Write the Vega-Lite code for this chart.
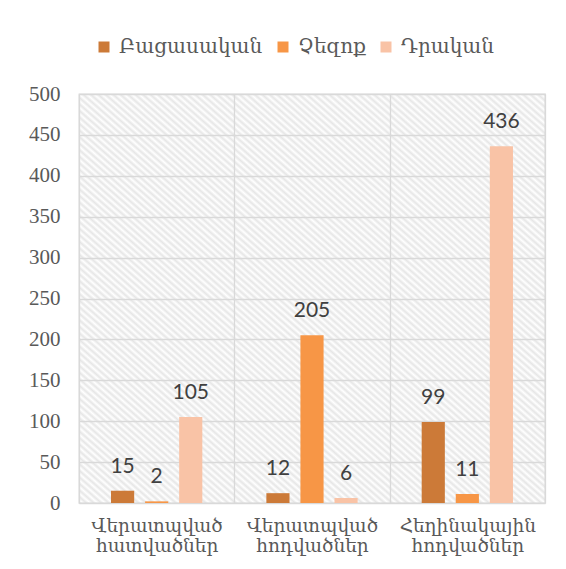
{
 "$schema": "https://vega.github.io/schema/vega-lite/v6.json",
 "width": 466, "height": 409,
 "autosize": "none",
 "padding": {"left": 79, "top": 94, "right": 21, "bottom": 66},
 "background": "white",
 "data": {"values": [
  {"cat": "Վերատպված հատվածներ", "series": "Բացասական", "v": 15},
  {"cat": "Վերատպված հատվածներ", "series": "Չեզոք", "v": 2},
  {"cat": "Վերատպված հատվածներ", "series": "Դրական", "v": 105},
  {"cat": "Վերատպված հոդվածներ", "series": "Բացասական", "v": 12},
  {"cat": "Վերատպված հոդվածներ", "series": "Չեզոք", "v": 205},
  {"cat": "Վերատպված հոդվածներ", "series": "Դրական", "v": 6},
  {"cat": "Հեղինակային հոդվածներ", "series": "Բացասական", "v": 99},
  {"cat": "Հեղինակային հոդվածներ", "series": "Չեզոք", "v": 11},
  {"cat": "Հեղինակային հոդվածներ", "series": "Դրական", "v": 436}
 ]},
 "encoding": {
  "x": {"field": "cat", "type": "nominal", "sort": null,
   "scale": {"paddingInner": 0, "paddingOuter": 0},
   "axis": {"title": null, "labelExpr": "split(datum.label, ' ')", "labelFont": "DejaVu Serif", "labelFontSize": 18.5, "labelColor": "#595959", "labelLineHeight": 20, "labelPadding": 13, "labelAngle": 0, "labelBaseline": "top", "ticks": false, "domain": false, "grid": true, "tickBand": "extent", "gridColor": "#d9d9d9", "gridWidth": 1.3}},
  "y": {"field": "v", "type": "quantitative",
   "scale": {"domain": [0, 500], "nice": false},
   "axis": {"title": null, "values": [0, 50, 100, 150, 200, 250, 300, 350, 400, 450, 500], "labelFont": "Liberation Serif", "labelFontSize": 21, "labelColor": "#595959", "labelPadding": 19, "ticks": false, "domain": false, "gridColor": "#d9d9d9", "gridWidth": 1.3}},
  "xOffset": {"field": "series", "type": "nominal", "sort": ["Բացասական", "Չեզոք", "Դրական"], "scale": {"paddingInner": 0.32, "paddingOuter": 0.94}}
 },
 "layer": [
  {"mark": {"type": "bar"},
   "encoding": {"color": {"field": "series", "type": "nominal", "sort": ["Բացասական", "Չեզոք", "Դրական"],
     "scale": {"domain": ["Բացասական", "Չեզոք", "Դրական"], "range": ["#CC7A38", "#F79646", "#F9C3A6"]},
     "legend": {"orient": "none", "legendX": 15, "legendY": -57, "direction": "horizontal", "title": null, "symbolType": "square", "symbolSize": 121, "symbolStrokeWidth": 0, "labelFont": "DejaVu Serif", "labelFontSize": 20, "labelColor": "#595959", "columnSpacing": 25, "labelOffset": 5}}}},
  {"mark": {"type": "text", "baseline": "alphabetic", "dy": -18, "font": "Lato", "fontSize": 21, "fill": "#404040"},
   "encoding": {"text": {"field": "v", "type": "quantitative"}}}
 ],
 "config": {
  "view": {"stroke": "#d9d9d9", "strokeWidth": 1.3,
   "fill": {"gradient": "linear", "x1": 0, "y1": 1, "x2": 1, "y2": 0, "stops": [
{"offset":0.000,"color":"#e6e6e6"},{"offset":0.004,"color":"#fff"},{"offset":0.008,"color":"#e6e6e6"},{"offset":0.012,"color":"#fff"},{"offset":0.016,"color":"#e6e6e6"},{"offset":0.020,"color":"#fff"},{"offset":0.024,"color":"#e6e6e6"},{"offset":0.028,"color":"#fff"},{"offset":0.032,"color":"#e6e6e6"},{"offset":0.036,"color":"#fff"},{"offset":0.040,"color":"#e6e6e6"},{"offset":0.044,"color":"#fff"},{"offset":0.048,"color":"#e6e6e6"},{"offset":0.052,"color":"#fff"},{"offset":0.056,"color":"#e6e6e6"},{"offset":0.060,"color":"#fff"},{"offset":0.064,"color":"#e6e6e6"},{"offset":0.068,"color":"#fff"},{"offset":0.072,"color":"#e6e6e6"},{"offset":0.076,"color":"#fff"},{"offset":0.080,"color":"#e6e6e6"},{"offset":0.084,"color":"#fff"},{"offset":0.088,"color":"#e6e6e6"},{"offset":0.092,"color":"#fff"},{"offset":0.096,"color":"#e6e6e6"},{"offset":0.100,"color":"#fff"},{"offset":0.104,"color":"#e6e6e6"},{"offset":0.108,"color":"#fff"},{"offset":0.112,"color":"#e6e6e6"},{"offset":0.116,"color":"#fff"},{"offset":0.120,"color":"#e6e6e6"},{"offset":0.124,"color":"#fff"},{"offset":0.128,"color":"#e6e6e6"},{"offset":0.132,"color":"#fff"},{"offset":0.136,"color":"#e6e6e6"},{"offset":0.140,"color":"#fff"},{"offset":0.144,"color":"#e6e6e6"},{"offset":0.148,"color":"#fff"},{"offset":0.152,"color":"#e6e6e6"},{"offset":0.156,"color":"#fff"},{"offset":0.160,"color":"#e6e6e6"},{"offset":0.164,"color":"#fff"},{"offset":0.168,"color":"#e6e6e6"},{"offset":0.172,"color":"#fff"},{"offset":0.176,"color":"#e6e6e6"},{"offset":0.180,"color":"#fff"},{"offset":0.184,"color":"#e6e6e6"},{"offset":0.188,"color":"#fff"},{"offset":0.192,"color":"#e6e6e6"},{"offset":0.196,"color":"#fff"},
{"offset":0.200,"color":"#e6e6e6"},{"offset":0.204,"color":"#fff"},{"offset":0.208,"color":"#e6e6e6"},{"offset":0.212,"color":"#fff"},{"offset":0.216,"color":"#e6e6e6"},{"offset":0.220,"color":"#fff"},{"offset":0.224,"color":"#e6e6e6"},{"offset":0.228,"color":"#fff"},{"offset":0.232,"color":"#e6e6e6"},{"offset":0.236,"color":"#fff"},{"offset":0.240,"color":"#e6e6e6"},{"offset":0.244,"color":"#fff"},{"offset":0.248,"color":"#e6e6e6"},{"offset":0.252,"color":"#fff"},{"offset":0.256,"color":"#e6e6e6"},{"offset":0.260,"color":"#fff"},{"offset":0.264,"color":"#e6e6e6"},{"offset":0.268,"color":"#fff"},{"offset":0.272,"color":"#e6e6e6"},{"offset":0.276,"color":"#fff"},{"offset":0.280,"color":"#e6e6e6"},{"offset":0.284,"color":"#fff"},{"offset":0.288,"color":"#e6e6e6"},{"offset":0.292,"color":"#fff"},{"offset":0.296,"color":"#e6e6e6"},{"offset":0.300,"color":"#fff"},{"offset":0.304,"color":"#e6e6e6"},{"offset":0.308,"color":"#fff"},{"offset":0.312,"color":"#e6e6e6"},{"offset":0.316,"color":"#fff"},{"offset":0.320,"color":"#e6e6e6"},{"offset":0.324,"color":"#fff"},{"offset":0.328,"color":"#e6e6e6"},{"offset":0.332,"color":"#fff"},{"offset":0.336,"color":"#e6e6e6"},{"offset":0.340,"color":"#fff"},{"offset":0.344,"color":"#e6e6e6"},{"offset":0.348,"color":"#fff"},{"offset":0.352,"color":"#e6e6e6"},{"offset":0.356,"color":"#fff"},{"offset":0.360,"color":"#e6e6e6"},{"offset":0.364,"color":"#fff"},{"offset":0.368,"color":"#e6e6e6"},{"offset":0.372,"color":"#fff"},{"offset":0.376,"color":"#e6e6e6"},{"offset":0.380,"color":"#fff"},{"offset":0.384,"color":"#e6e6e6"},{"offset":0.388,"color":"#fff"},{"offset":0.392,"color":"#e6e6e6"},{"offset":0.396,"color":"#fff"},
{"offset":0.400,"color":"#e6e6e6"},{"offset":0.404,"color":"#fff"},{"offset":0.408,"color":"#e6e6e6"},{"offset":0.412,"color":"#fff"},{"offset":0.416,"color":"#e6e6e6"},{"offset":0.420,"color":"#fff"},{"offset":0.424,"color":"#e6e6e6"},{"offset":0.428,"color":"#fff"},{"offset":0.432,"color":"#e6e6e6"},{"offset":0.436,"color":"#fff"},{"offset":0.440,"color":"#e6e6e6"},{"offset":0.444,"color":"#fff"},{"offset":0.448,"color":"#e6e6e6"},{"offset":0.452,"color":"#fff"},{"offset":0.456,"color":"#e6e6e6"},{"offset":0.460,"color":"#fff"},{"offset":0.464,"color":"#e6e6e6"},{"offset":0.468,"color":"#fff"},{"offset":0.472,"color":"#e6e6e6"},{"offset":0.476,"color":"#fff"},{"offset":0.480,"color":"#e6e6e6"},{"offset":0.484,"color":"#fff"},{"offset":0.488,"color":"#e6e6e6"},{"offset":0.492,"color":"#fff"},{"offset":0.496,"color":"#e6e6e6"},{"offset":0.500,"color":"#fff"},{"offset":0.504,"color":"#e6e6e6"},{"offset":0.508,"color":"#fff"},{"offset":0.512,"color":"#e6e6e6"},{"offset":0.516,"color":"#fff"},{"offset":0.520,"color":"#e6e6e6"},{"offset":0.524,"color":"#fff"},{"offset":0.528,"color":"#e6e6e6"},{"offset":0.532,"color":"#fff"},{"offset":0.536,"color":"#e6e6e6"},{"offset":0.540,"color":"#fff"},{"offset":0.544,"color":"#e6e6e6"},{"offset":0.548,"color":"#fff"},{"offset":0.552,"color":"#e6e6e6"},{"offset":0.556,"color":"#fff"},{"offset":0.560,"color":"#e6e6e6"},{"offset":0.564,"color":"#fff"},{"offset":0.568,"color":"#e6e6e6"},{"offset":0.572,"color":"#fff"},{"offset":0.576,"color":"#e6e6e6"},{"offset":0.580,"color":"#fff"},{"offset":0.584,"color":"#e6e6e6"},{"offset":0.588,"color":"#fff"},{"offset":0.592,"color":"#e6e6e6"},{"offset":0.596,"color":"#fff"},
{"offset":0.600,"color":"#e6e6e6"},{"offset":0.604,"color":"#fff"},{"offset":0.608,"color":"#e6e6e6"},{"offset":0.612,"color":"#fff"},{"offset":0.616,"color":"#e6e6e6"},{"offset":0.620,"color":"#fff"},{"offset":0.624,"color":"#e6e6e6"},{"offset":0.628,"color":"#fff"},{"offset":0.632,"color":"#e6e6e6"},{"offset":0.636,"color":"#fff"},{"offset":0.640,"color":"#e6e6e6"},{"offset":0.644,"color":"#fff"},{"offset":0.648,"color":"#e6e6e6"},{"offset":0.652,"color":"#fff"},{"offset":0.656,"color":"#e6e6e6"},{"offset":0.660,"color":"#fff"},{"offset":0.664,"color":"#e6e6e6"},{"offset":0.668,"color":"#fff"},{"offset":0.672,"color":"#e6e6e6"},{"offset":0.676,"color":"#fff"},{"offset":0.680,"color":"#e6e6e6"},{"offset":0.684,"color":"#fff"},{"offset":0.688,"color":"#e6e6e6"},{"offset":0.692,"color":"#fff"},{"offset":0.696,"color":"#e6e6e6"},{"offset":0.700,"color":"#fff"},{"offset":0.704,"color":"#e6e6e6"},{"offset":0.708,"color":"#fff"},{"offset":0.712,"color":"#e6e6e6"},{"offset":0.716,"color":"#fff"},{"offset":0.720,"color":"#e6e6e6"},{"offset":0.724,"color":"#fff"},{"offset":0.728,"color":"#e6e6e6"},{"offset":0.732,"color":"#fff"},{"offset":0.736,"color":"#e6e6e6"},{"offset":0.740,"color":"#fff"},{"offset":0.744,"color":"#e6e6e6"},{"offset":0.748,"color":"#fff"},{"offset":0.752,"color":"#e6e6e6"},{"offset":0.756,"color":"#fff"},{"offset":0.760,"color":"#e6e6e6"},{"offset":0.764,"color":"#fff"},{"offset":0.768,"color":"#e6e6e6"},{"offset":0.772,"color":"#fff"},{"offset":0.776,"color":"#e6e6e6"},{"offset":0.780,"color":"#fff"},{"offset":0.784,"color":"#e6e6e6"},{"offset":0.788,"color":"#fff"},{"offset":0.792,"color":"#e6e6e6"},{"offset":0.796,"color":"#fff"},
{"offset":0.800,"color":"#e6e6e6"},{"offset":0.804,"color":"#fff"},{"offset":0.808,"color":"#e6e6e6"},{"offset":0.812,"color":"#fff"},{"offset":0.816,"color":"#e6e6e6"},{"offset":0.820,"color":"#fff"},{"offset":0.824,"color":"#e6e6e6"},{"offset":0.828,"color":"#fff"},{"offset":0.832,"color":"#e6e6e6"},{"offset":0.836,"color":"#fff"},{"offset":0.840,"color":"#e6e6e6"},{"offset":0.844,"color":"#fff"},{"offset":0.848,"color":"#e6e6e6"},{"offset":0.852,"color":"#fff"},{"offset":0.856,"color":"#e6e6e6"},{"offset":0.860,"color":"#fff"},{"offset":0.864,"color":"#e6e6e6"},{"offset":0.868,"color":"#fff"},{"offset":0.872,"color":"#e6e6e6"},{"offset":0.876,"color":"#fff"},{"offset":0.880,"color":"#e6e6e6"},{"offset":0.884,"color":"#fff"},{"offset":0.888,"color":"#e6e6e6"},{"offset":0.892,"color":"#fff"},{"offset":0.896,"color":"#e6e6e6"},{"offset":0.900,"color":"#fff"},{"offset":0.904,"color":"#e6e6e6"},{"offset":0.908,"color":"#fff"},{"offset":0.912,"color":"#e6e6e6"},{"offset":0.916,"color":"#fff"},{"offset":0.920,"color":"#e6e6e6"},{"offset":0.924,"color":"#fff"},{"offset":0.928,"color":"#e6e6e6"},{"offset":0.932,"color":"#fff"},{"offset":0.936,"color":"#e6e6e6"},{"offset":0.940,"color":"#fff"},{"offset":0.944,"color":"#e6e6e6"},{"offset":0.948,"color":"#fff"},{"offset":0.952,"color":"#e6e6e6"},{"offset":0.956,"color":"#fff"},{"offset":0.960,"color":"#e6e6e6"},{"offset":0.964,"color":"#fff"},{"offset":0.968,"color":"#e6e6e6"},{"offset":0.972,"color":"#fff"},{"offset":0.976,"color":"#e6e6e6"},{"offset":0.980,"color":"#fff"},{"offset":0.984,"color":"#e6e6e6"},{"offset":0.988,"color":"#fff"},{"offset":0.992,"color":"#e6e6e6"},{"offset":0.996,"color":"#fff"},{"offset":1.000,"color":"#e6e6e6"}
   ]}}
 }
}
